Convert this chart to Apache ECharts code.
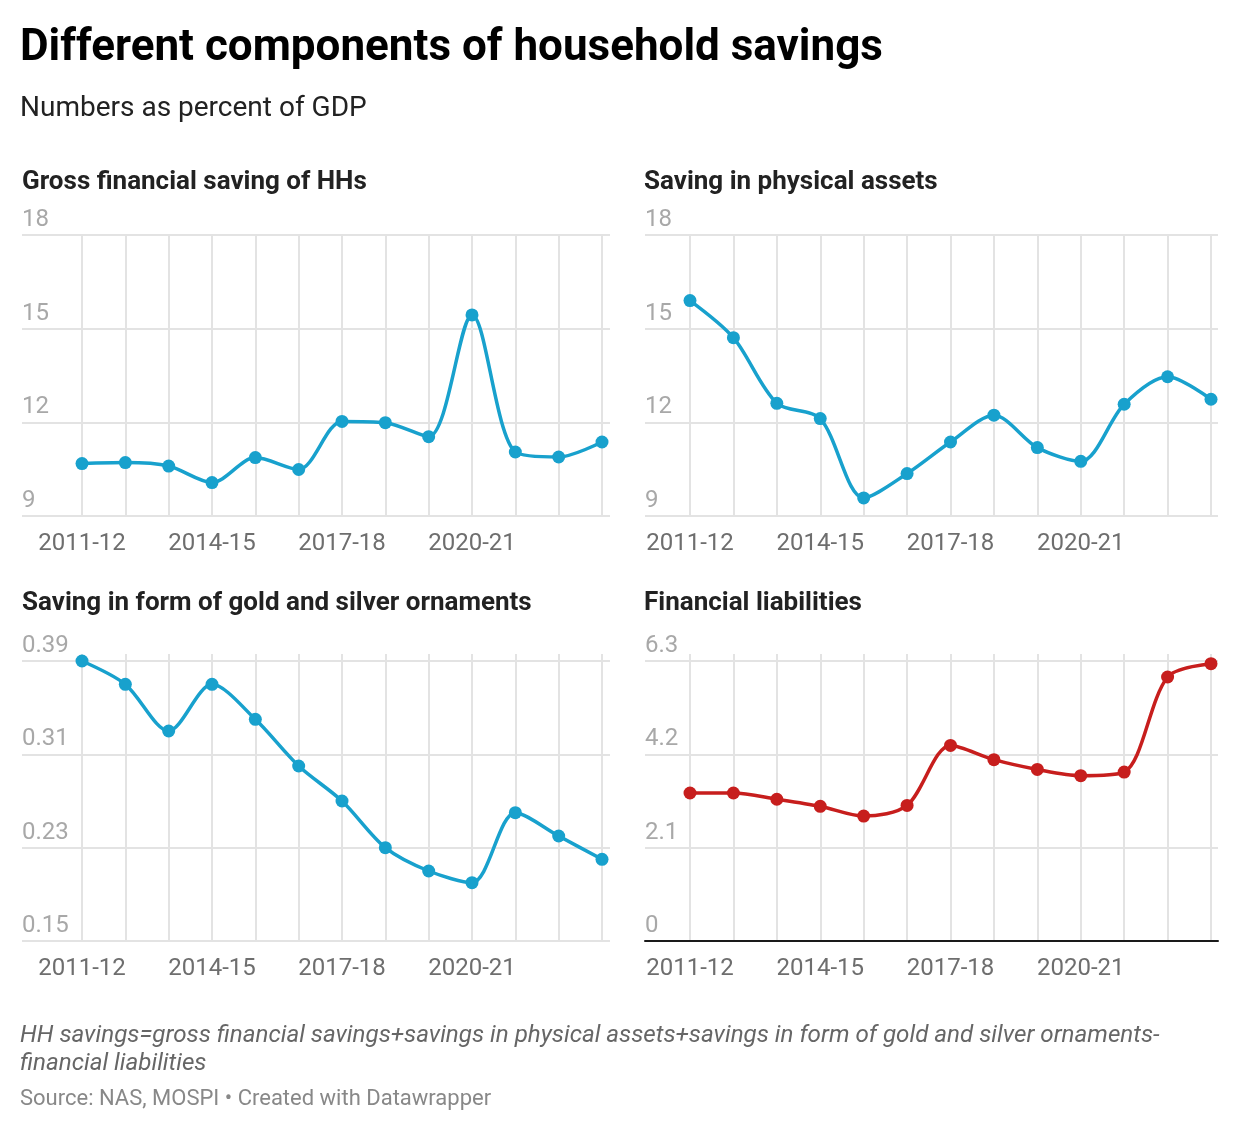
<!DOCTYPE html>
<html>
<head>
<meta charset="utf-8">
<script src="https://cdn.jsdelivr.net/npm/echarts@6/dist/echarts.min.js"></script>
<style>
  html, body { margin: 0; padding: 0; background: #fff; }
  #chart { width: 1240px; height: 1134px; }
</style>
</head>
<body>
<div id="chart"></div>
<script>
const years = ["2011-12", "2012-13", "2013-14", "2014-15", "2015-16", "2016-17", "2017-18",
  "2018-19", "2019-20", "2020-21", "2021-22", "2022-23", "2023-24"];
const xTickLabels = ["2011-12", "2014-15", "2017-18", "2020-21"];

const grossFinancial = [10.68, 10.71, 10.6, 10.07, 10.87, 10.49, 12.03, 11.99, 11.54, 15.44, 11.05, 10.89, 11.37];
const physicalAssets = [15.9, 14.71, 12.61, 12.12, 9.58, 10.36, 11.37, 12.23, 11.19, 10.75, 12.58, 13.46, 12.74];
const goldSilver = [0.39, 0.37, 0.33, 0.37, 0.34, 0.3, 0.27, 0.23, 0.21, 0.2, 0.26, 0.24, 0.22];
const liabilities = [3.33, 3.33, 3.19, 3.03, 2.81, 3.05, 4.4, 4.08, 3.86, 3.72, 3.8, 5.94, 6.24];

const ticksGross = [9, 12, 15, 18];
const ticksPhysical = [9, 12, 15, 18];
const ticksGold = [0.15, 0.23, 0.31, 0.39];
const ticksLiab = [0, 2.1, 4.2, 6.3];

const BLUE = "#18a1cd";
const RED = "#c71e1d";
const FONT = "Roboto";

// panel layout: outer grid (horizontal lines, y labels) and inner grid (points, x labels)
const panels = [
  { title: "Gross financial saving of HHs", data: grossFinancial, ticks: ticksGross, color: BLUE,
    outer: [22, 588], inner: [82, 520], top: 235, height: 281, titleX: 22, titleY: 169, ext: 0, base: false },
  { title: "Saving in physical assets", data: physicalAssets, ticks: ticksPhysical, color: BLUE,
    outer: [645, 573], inner: [690, 521], top: 235, height: 281, titleX: 644, titleY: 169, ext: 0, base: false },
  { title: "Saving in form of gold and silver ornaments", data: goldSilver, ticks: ticksGold, color: BLUE,
    outer: [22, 588], inner: [82, 520], top: 661, height: 280, titleX: 22, titleY: 590, ext: 7, base: false },
  { title: "Financial liabilities", data: liabilities, ticks: ticksLiab, color: RED,
    outer: [645, 573], inner: [690, 521], top: 661, height: 280, titleX: 644, titleY: 590, ext: 7, base: true }
];

const grid = [];
const xAxis = [];
const yAxis = [];
const series = [];
const title = [
  { text: "Different components of household savings", left: 20, top: 27, padding: 0,
    textStyle: { fontFamily: FONT, fontSize: 44, fontWeight: "bold", color: "#000" } },
  { text: "Numbers as percent of GDP", left: 20, top: 95, padding: 0,
    textStyle: { fontFamily: FONT, fontSize: 28, fontWeight: "normal", color: "#222" } },
  { text: "HH savings=gross financial savings+savings in physical assets+savings in form of gold and silver ornaments-\nfinancial liabilities",
    left: 20, top: 1022, padding: 0,
    textStyle: { fontFamily: FONT, fontSize: 24.2, fontStyle: "italic", fontWeight: "normal", color: "#666", lineHeight: 28 } },
  { text: "Source: NAS, MOSPI \u2022 Created with Datawrapper", left: 20, top: 1088, padding: 0,
    textStyle: { fontFamily: FONT, fontSize: 22, fontWeight: "normal", color: "#888" } }
];

panels.forEach((p, i) => {
  const min = p.ticks[0];
  const max = p.ticks[p.ticks.length - 1];
  const step = p.ticks[1] - p.ticks[0];
  const extMax = max + p.ext * (max - min) / p.height;

  title.push({ text: p.title, left: p.titleX, top: p.titleY, padding: 0,
    textStyle: { fontFamily: FONT, fontSize: 26, fontWeight: "bold", color: "#222" } });

  // outer grid
  grid.push({ left: p.outer[0], width: p.outer[1], top: p.top, height: p.height });
  xAxis.push({
    gridIndex: 2 * i, type: "value", min: 0, max: 1,
    axisLabel: { show: false }, axisTick: { show: false }, splitLine: { show: false },
    axisLine: { show: p.base, onZero: false, lineStyle: { color: "#1a1a1a", width: 2 } }
  });
  yAxis.push({
    gridIndex: 2 * i, type: "value", min: min, max: max, interval: step,
    axisLine: { show: false }, axisTick: { show: false },
    splitLine: { lineStyle: { color: "#e3e3e3", width: 2 } },
    axisLabel: {
      inside: true, margin: 0, verticalAlign: "bottom", padding: [0, 0, 3, 0],
      fontFamily: FONT, fontSize: 24, color: "#a8a8a8",
      formatter: v => String(parseFloat(Number(v).toFixed(2)))
    }
  });

  // inner grid
  grid.push({ left: p.inner[0], width: p.inner[1], top: p.top - p.ext, height: p.height + p.ext });
  xAxis.push({
    gridIndex: 2 * i + 1, type: "category", data: years, boundaryGap: false,
    axisLine: { show: false }, axisTick: { show: false },
    splitLine: { show: true, interval: 0, lineStyle: { color: "#e3e3e3", width: 2 } },
    axisLabel: {
      margin: 16, fontFamily: FONT, fontSize: 24, color: "#6e6e6e",
      interval: (idx, val) => xTickLabels.indexOf(val) >= 0
    }
  });
  yAxis.push({ gridIndex: 2 * i + 1, type: "value", min: min, max: extMax, show: false });

  series.push({
    type: "line", xAxisIndex: 2 * i + 1, yAxisIndex: 2 * i + 1,
    data: p.data, smooth: 0.3, symbol: "circle", symbolSize: 13,
    lineStyle: { color: p.color, width: 3.5 },
    itemStyle: { color: p.color },
    silent: true, animation: false
  });
});

const chart = echarts.init(document.getElementById("chart"));
chart.setOption({
  backgroundColor: "#fff",
  animation: false,
  title: title,
  grid: grid,
  xAxis: xAxis,
  yAxis: yAxis,
  series: series
});
</script>
</body>
</html>
